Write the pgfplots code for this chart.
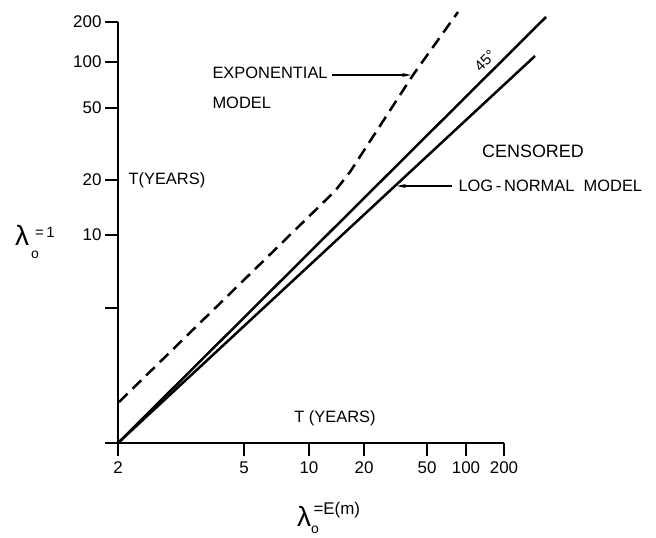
\documentclass[border=0pt]{standalone}
\usepackage{pgfplots}
\pgfplotsset{compat=1.18}
\usepackage{fontspec}
\setmainfont{Liberation Sans}
\usetikzlibrary{arrows.meta}

% The plotted scales are hand-ruled (not uniform in log), so both axes
% run in drawing units and the ticks carry the printed values.
\begin{document}
\begin{tikzpicture}
\begin{axis}[
  x=1bp, y=1bp,
  xmin=118, xmax=504, ymin=91, ymax=512,
  axis lines=left,
  axis line style={-, line width=1.5bp},
  tick style={line width=1.5bp, black},
  tick align=outside,
  major tick length=13bp,
  xtick={118,244,309,364,427,466,504},
  xticklabels={2,5,10,20,50,100,200},
  ytick={91,226,299,354,426,472,512},
  yticklabels={,,10,20,50,100,200},
  /pgf/number format/assume math mode=true,
  ticklabel style={font=\fontsize{17}{17}\selectfont},
  xticklabel style={yshift=-2bp},
  clip=false,
]
% exponential model (dashed)
\addplot[black, line width=2.5bp, dash pattern=on 12bp off 7bp]
  coordinates {(119,132) (335,343) (350,362) (413,459) (458,522)};
% 45 degree reference line
\addplot[black, line width=2.5bp] coordinates {(118,91) (546,517)};
% censored log-normal model
\addplot[black, line width=2.5bp] coordinates {(118,91) (535,478)};

% pointers
\draw[line width=1.3bp, -{Stealth[length=9bp,width=4bp]}]
  (axis cs:332,459) -- (axis cs:411,459);
\draw[line width=1.3bp, -{Stealth[length=9bp,width=4bp]}]
  (axis cs:452,348) -- (axis cs:397,348);

% annotations
\node[anchor=west, font=\fontsize{16.5}{16.5}\selectfont] at (axis cs:209,461) {EXPONENTIAL};
\node[anchor=west, font=\fontsize{16.5}{16.5}\selectfont] at (axis cs:209,431) {MODEL};
\node[anchor=west, font=\fontsize{16.5}{16.5}\selectfont] at (axis cs:455,348) {LOG\,-\,NORMAL\ \ MODEL};
\node[font=\fontsize{18}{18}\selectfont] at (axis cs:533,383) {CENSORED};
\node[anchor=west, font=\fontsize{16.5}{16.5}\selectfont] at (axis cs:125,354) {T(YEARS)};
\node[font=\fontsize{16.5}{16.5}\selectfont] at (axis cs:335,116) {T (YEARS)};
\node[rotate=45, font=\fontsize{15}{15}\selectfont] at (axis cs:485,473) {45°};

% axis titles
\node[font=\fontsize{28}{28}\selectfont] at (axis cs:22,299) {λ};
\node[font=\fontsize{14}{14}\selectfont] at (axis cs:35,279) {o};
\node[font=\fontsize{15}{15}\selectfont] at (axis cs:45,302) {=\,1};
\node[font=\fontsize{28}{28}\selectfont] at (axis cs:304,18) {λ};
\node[font=\fontsize{14}{14}\selectfont] at (axis cs:315,4) {o};
\node[anchor=west, font=\fontsize{17}{17}\selectfont] at (axis cs:310,24) {=E(m)};

% page frame
\path (axis cs:0,0) rectangle (axis cs:656,534);
\end{axis}
\end{tikzpicture}
\end{document}
